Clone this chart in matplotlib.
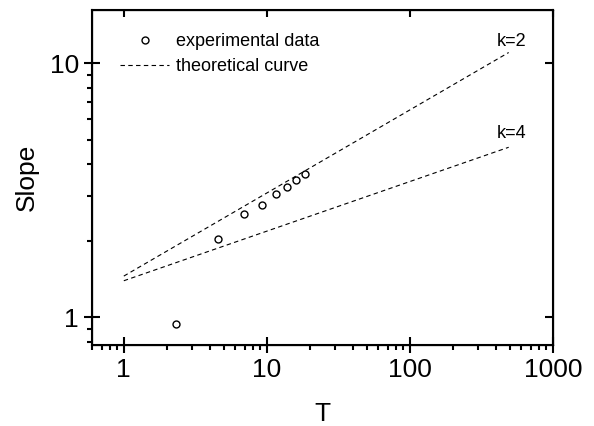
import numpy as np
import matplotlib
matplotlib.use('Agg')
from matplotlib import pyplot as plt
from matplotlib.ticker import NullFormatter, LogLocator, FixedLocator

plt.rcParams['font.family'] = ['Liberation Sans', 'DejaVu Sans']

# experimental points
t_exp = [2.3, 4.57, 6.87, 9.18, 11.5, 13.9, 15.9, 18.4]
slope_exp = [0.935, 2.03, 2.54, 2.76, 3.04, 3.26, 3.46, 3.65]

# theoretical curves (straight in log-log), end points
t_theo = [1, 490]
slope_k2 = [1.45, 11.0]
slope_k4 = [1.39, 4.66]

xlim = (0.6, 1000)
ylim = (0.776, 16.2)

fig = plt.figure(figsize=(5.94, 4.26), dpi=100)
ax = fig.add_axes([0.155, 0.190, 0.776, 0.787])

ax.plot(t_exp, slope_exp, 'o', mfc='none', mec='black', ms=5, mew=1.0,
        label='experimental data')
ax.plot(t_theo, slope_k2, color='black', lw=0.8, dashes=(4, 3),
        label='theoretical curve')
ax.plot(t_theo, slope_k4, color='black', lw=0.8, dashes=(4, 3))

ax.set_xscale('log')
ax.set_yscale('log')
ax.set_xlim(*xlim)
ax.set_ylim(*ylim)

ax.xaxis.set_major_locator(FixedLocator([1, 10, 100, 1000]))
ax.yaxis.set_major_locator(FixedLocator([1, 10]))
ax.set_xticklabels(['1', '10', '100', '1000'])
ax.set_yticklabels(['1', '10'])
ax.xaxis.set_minor_locator(LogLocator(subs=np.arange(2, 10)))
ax.yaxis.set_minor_locator(LogLocator(subs=np.arange(2, 10)))
ax.xaxis.set_minor_formatter(NullFormatter())
ax.yaxis.set_minor_formatter(NullFormatter())

ax.tick_params(which='major', direction='inout', length=11, width=1.5,
               labelsize=19, pad=4)
ax.tick_params(which='minor', direction='out', length=3.5, width=1.5)
for s in ax.spines.values():
    s.set_linewidth(1.5)

# top and right ticks point inward, majors only
axt = ax.twiny()
axt.set_xscale('log')
axt.set_xlim(*xlim)
axt.xaxis.set_major_locator(FixedLocator([1, 10, 100, 1000]))
axt.xaxis.set_minor_locator(FixedLocator([]))
axt.tick_params(direction='in', length=5, width=1.5, labeltop=False)
axr = ax.twinx()
axr.set_yscale('log')
axr.set_ylim(*ylim)
axr.yaxis.set_major_locator(FixedLocator([1, 10]))
axr.yaxis.set_minor_locator(FixedLocator([]))
axr.tick_params(direction='in', length=6, width=1.5, labelright=False)

ax.set_xlabel('T', fontsize=19, labelpad=14)
ax.set_ylabel('Slope', fontsize=19, labelpad=8)

ax.text(510, 12.2, 'k=2', fontsize=13, ha='center', va='center')
ax.text(510, 5.3, 'k=4', fontsize=13, ha='center', va='center')

ax.legend(loc='upper left', bbox_to_anchor=(0.046, 0.952), frameon=False,
          fontsize=13, handlelength=2.67, handletextpad=0.4,
          labelspacing=0.45, borderaxespad=0)

fig.savefig('out.png', dpi=100)
